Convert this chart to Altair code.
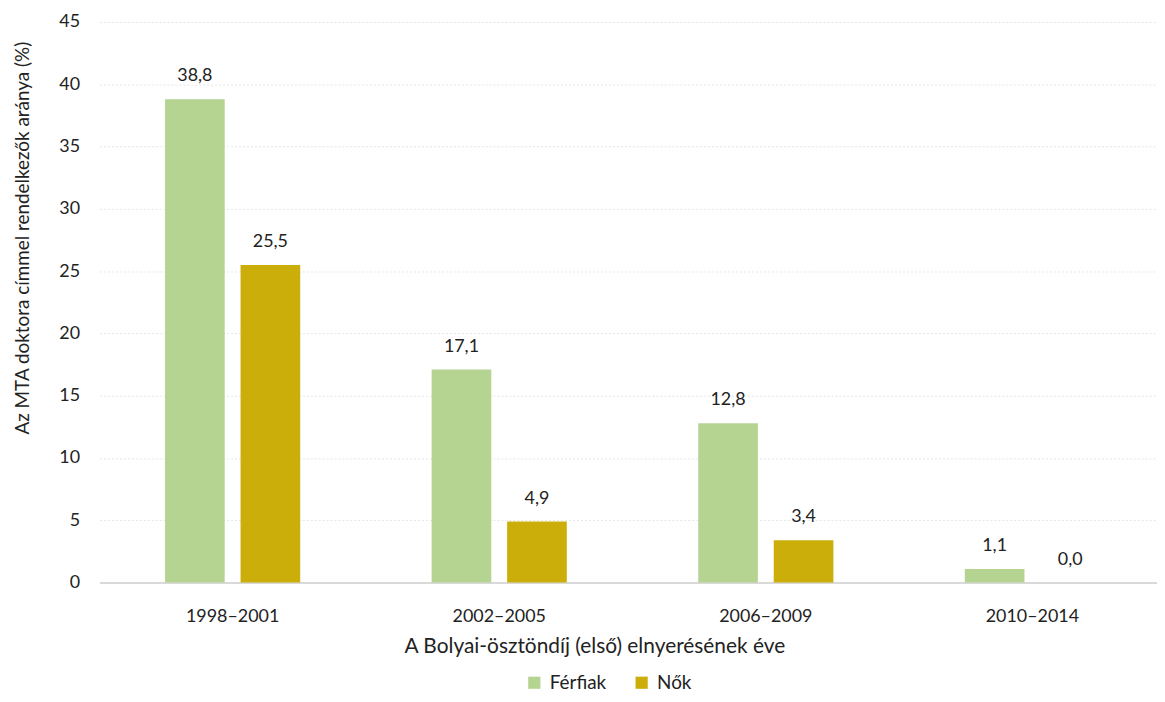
import altair as alt
import pandas as pd

categories = ["1998–2001", "2002–2005", "2006–2009", "2010–2014"]
ferfiak = [38.8, 17.1, 12.8, 1.1]
nok = [25.5, 4.9, 3.4, 0.0]
series = ["Férfiak", "Nők"]
colors = ["#B5D491", "#CCAE0A"]

rows = []
for i, c in enumerate(categories):
    for s, v in zip(series, [ferfiak[i], nok[i]]):
        rows.append({"cat": c, "series": s, "value": v,
                     "label": f"{v:.1f}".replace(".", ",")})
df = pd.DataFrame(rows)

FONT = "Lato"
TXT = "#222222"

x = alt.X("cat:N", sort=categories,
          scale=alt.Scale(paddingInner=0.493, paddingOuter=0.23, align=0.535),
          axis=alt.Axis(title="A Bolyai-ösztöndíj (első) elnyerésének éve",
                        labelAngle=0, labelFontSize=18, labelPadding=25,
                        labelColor=TXT, ticks=False, domain=True,
                        domainColor="#d9d9d9", domainWidth=2,
                        titleFontSize=21, titleFontWeight="normal",
                        titleColor=TXT, titlePadding=10,
                        titleX=498, titleAnchor="middle"))
y = alt.Y("value:Q", scale=alt.Scale(domain=[0, 45]),
          axis=alt.Axis(title="Az MTA doktora címmel rendelkezők aránya (%)",
                        values=list(range(0, 50, 5)), labelFontSize=18,
                        labelPadding=20, labelColor=TXT, ticks=False,
                        domain=False, grid=True, gridColor="#e6e6e6",
                        gridDash=[2, 2], titleFontSize=19,
                        titleFontWeight="normal", titleColor=TXT,
                        titlePadding=26, titleY=217))
xo = alt.XOffset("series:N", sort=series, scale=alt.Scale(paddingInner=0.21))

bars = alt.Chart(df).mark_bar().encode(
    x=x, y=y, xOffset=xo,
    color=alt.Color("series:N", sort=series,
                    scale=alt.Scale(domain=series, range=colors),
                    legend=alt.Legend(title=None, orient="none",
                                      direction="horizontal",
                                      legendX=428, legendY=655,
                                      symbolType="square", symbolSize=150,
                                      symbolStrokeWidth=0,
                                      labelFontSize=19, labelColor=TXT,
                                      columnPadding=26, labelOffset=6)),
)

text = alt.Chart(df).mark_text(dy=-23, fontSize=18, color=TXT,
                               font=FONT).encode(
    x=alt.X("cat:N", sort=categories), y="value:Q",
    xOffset=alt.XOffset("series:N", sort=series), text="label:N")

chart = alt.layer(bars, text).properties(
    width=1064, height=564,
    autosize=alt.AutoSizeParams(type="none"),
    padding={"left": 92, "top": 12, "right": 0, "bottom": 110},
).configure(font=FONT).configure_view(stroke=None)

chart.save("out.html", embed_options={"renderer": "svg", "actions": False})
